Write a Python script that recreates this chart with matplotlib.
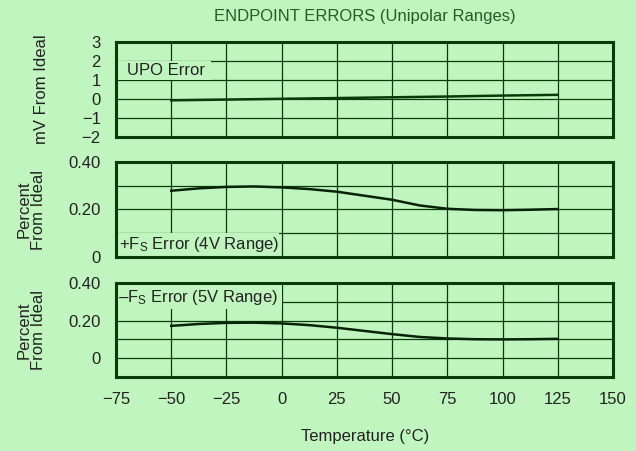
import matplotlib
matplotlib.use("Agg")
import matplotlib.pyplot as plt
from matplotlib.patches import Rectangle

plt.rcParams['font.family'] = ['Liberation Sans', 'DejaVu Sans']
plt.rcParams['mathtext.fontset'] = 'custom'
plt.rcParams['mathtext.rm'] = 'Liberation Sans'
plt.rcParams['mathtext.it'] = 'Liberation Sans:italic'

# temperature axis (deg C)
x_ticks = [-75, -50, -25, 0, 25, 50, 75, 100, 125, 150]
x_labels = ['\u221275', '\u221250', '\u221225', '0', '25', '50', '75', '100', '125', '150']

# UPO error, mV
upo_temp = [-50, -25, 0, 25, 50, 75, 100, 125]
upo_err = [-0.07, -0.03, 0.01, 0.05, 0.09, 0.13, 0.18, 0.22]

# +FS error (4V range), percent
fs_temp = [-50, -37.5, -25, -12.5, 0, 12.5, 25, 37.5, 50, 62.5, 75, 87.5, 100, 112.5, 125]
pos_fs_err = [0.279, 0.289, 0.295, 0.297, 0.293, 0.286, 0.275, 0.258, 0.241,
              0.217, 0.203, 0.198, 0.197, 0.199, 0.202]
# -FS error (5V range), percent
neg_fs_err = [0.172, 0.182, 0.188, 0.189, 0.185, 0.176, 0.162, 0.145, 0.128,
              0.113, 0.105, 0.101, 0.100, 0.101, 0.103]

bg = '#c1f5bf'
dark = '#0a3a0a'
txt = '#222222'

fig = plt.figure(figsize=(6.36, 4.51), dpi=100, facecolor=bg)
W, H = 636, 451


def make_ax(top, bottom):
    ax = fig.add_axes([116 / W, 1 - bottom / H, 497 / W, (bottom - top) / H])
    ax.set_facecolor(bg)
    ax.set_xlim(-75, 150)
    ax.set_xticks(x_ticks)
    ax.grid(True, color=dark, lw=0.9, zorder=0)
    ax.set_axisbelow(True)
    for s in ax.spines.values():
        s.set_color(dark)
        s.set_linewidth(2.2)
    ax.tick_params(length=0, pad=11, labelsize=12, colors=txt)
    return ax


ax1 = make_ax(42, 137)
ax2 = make_ax(162, 257)
ax3 = make_ax(283, 377)

# panel 1: UPO error
ax1.set_ylim(-2, 3)
ax1.set_yticks([-2, -1, 0, 1, 2, 3])
ax1.set_yticklabels(['\u22122', '\u22121', '0', '1', '2', '3'])
ax1.plot(upo_temp, upo_err, color=dark, lw=1.8, zorder=3)
ax1.add_patch(Rectangle((-75, 1), 43, 1, facecolor=bg, edgecolor='none', zorder=1))
ax1.text(-70, 1.5, 'UPO Error', fontsize=12, color=txt, va='center', zorder=4)

# panel 2: +FS error
ax2.set_ylim(0, 0.4)
ax2.set_yticks([0, 0.1, 0.2, 0.3, 0.4])
ax2.set_yticklabels(['0', '', '0.20', '', '0.40'])
ax2.plot(fs_temp, pos_fs_err, color='#0a220a', lw=1.8, zorder=3)
ax2.add_patch(Rectangle((-75, 0), 74, 0.1, facecolor=bg, edgecolor='none', zorder=1))
ax2.text(-73.5, 0.052, '+F$_\\mathrm{S}$ Error (4V Range)', fontsize=12, color=txt,
         va='center', zorder=4)

# panel 3: -FS error
ax3.set_ylim(-0.1, 0.4)
ax3.set_yticks([-0.1, 0, 0.1, 0.2, 0.3, 0.4])
ax3.set_yticklabels(['', '0', '', '0.20', '', '0.40'])
ax3.plot(fs_temp, neg_fs_err, color='#0a220a', lw=1.8, zorder=3)
ax3.add_patch(Rectangle((-75, 0.26), 75, 0.14, facecolor=bg, edgecolor='none', zorder=1))
ax3.text(-74, 0.325, '\u2013F$_\\mathrm{S}$ Error (5V Range)', fontsize=12, color=txt,
         va='center', zorder=4)

ax1.set_xticklabels([])
ax2.set_xticklabels([])
ax3.set_xticklabels(x_labels)

fig.text(365 / W, 1 - 17 / H, 'ENDPOINT ERRORS (Unipolar Ranges)', ha='center', va='center',
         fontsize=12, color='#285a28')
fig.text(365 / W, 1 - 436 / H, 'Temperature (\u00b0C)', ha='center', va='center',
         fontsize=12, color=txt)
fig.text(42 / W, 1 - 89.5 / H, 'mV From Ideal', rotation=90, ha='center', va='center',
         fontsize=12, color=txt)
for yc in (209.5, 330):
    fig.text(31 / W, 1 - yc / H, 'Percent\nFrom Ideal', rotation=90, ha='center', va='center',
             fontsize=12, color=txt, linespacing=0.95, multialignment='center')

fig.savefig('out.png', dpi=100, facecolor=bg)
